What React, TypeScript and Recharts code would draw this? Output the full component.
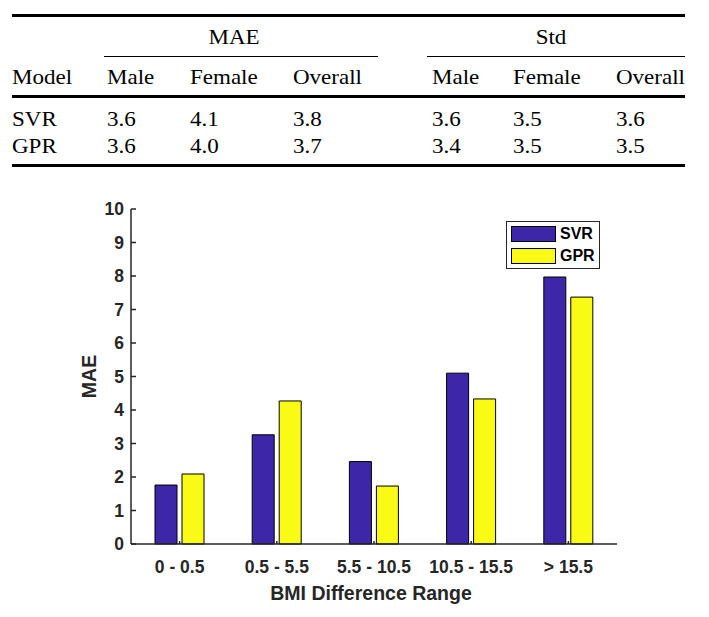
import {Bar, BarChart, Label, XAxis, YAxis} from 'recharts'

// BMI difference bins and MAE per model
const ranges = ['0 - 0.5', '0.5 - 5.5', '5.5 - 10.5', '10.5 - 15.5', '> 15.5']
const svrMae = [1.76, 3.26, 2.46, 5.1, 7.97]
const gprMae = [2.09, 4.27, 1.73, 4.33, 7.37]
const yTicks = [0, 1, 2, 3, 4, 5, 6, 7, 8, 9, 10]

// summary table
const groups = ['MAE', 'Std']
const subCols = ['Male', 'Female', 'Overall']
const models = ['SVR', 'GPR']
const svrStats = ['3.6', '4.1', '3.8', '3.6', '3.5', '3.6']
const gprStats = ['3.6', '4.0', '3.7', '3.4', '3.5', '3.5']

const series = [
	{key: 'svr', name: 'SVR', color: '#3E26A8'},
	{key: 'gpr', name: 'GPR', color: '#F9FB15'},
]

const data = ranges.map((range, i) => ({range, svr: svrMae[i], gpr: gprMae[i]}))
const tableRows = [svrStats, gprStats]

const ink = '#262626'
const sans = '"Liberation Sans", Arial, sans-serif'
const serif = '"Liberation Serif", "Times New Roman", serif'

// table layout
const colLeft = [107, 190, 293, 432, 513, 616]
const groupCenter = [234, 551]
const groupRule = [
	[104, 378],
	[427, 685],
]
const rowCenter = [119, 146]

function Cell({left, center, y, text}: {left?: number; center?: number; y: number; text: string}) {
	const style: React.CSSProperties = {
		position: 'absolute',
		top: y - 12,
		lineHeight: '24px',
		fontSize: 21.5,
		fontFamily: serif,
		whiteSpace: 'nowrap',
		color: '#000',
		transform: 'scaleX(1.07)',
		transformOrigin: center !== undefined ? 'center' : 'left',
	}
	if (center !== undefined) {
		style.left = center - 60
		style.width = 120
		style.textAlign = 'center'
	} else {
		style.left = left
	}
	return <div style={style}>{text}</div>
}

function Rule({x1, x2, y, h}: {x1: number; x2: number; y: number; h: number}) {
	return <div style={{position: 'absolute', left: x1, top: y, width: x2 - x1, height: h, background: '#000'}} />
}

function StatsTable() {
	return (
		<>
			<Rule x1={12} x2={685} y={14} h={3} />
			{groups.map((g, i) => (
				<Cell key={g} center={groupCenter[i]} y={37} text={g} />
			))}
			{groupRule.map(([a, b], i) => (
				<Rule key={i} x1={a} x2={b} y={56} h={1} />
			))}
			<Cell left={12} y={77} text='Model' />
			{groups.flatMap((g, gi) =>
				subCols.map((c, ci) => <Cell key={g + c} left={colLeft[gi * 3 + ci]} y={77} text={c} />),
			)}
			<Rule x1={12} x2={685} y={95} h={3} />
			{models.map((m, ri) => (
				<div key={m}>
					<Cell left={12} y={rowCenter[ri]} text={m} />
					{tableRows[ri].map((v, ci) => (
						<Cell key={ci} left={colLeft[ci]} y={rowCenter[ri]} text={v} />
					))}
				</div>
			))}
			<Rule x1={12} x2={685} y={164} h={3} />
		</>
	)
}

function XTick({x, y, payload}: any) {
	return (
		<text x={x} y={y + 29} textAnchor='middle' fill={ink} fontSize={17.5} fontWeight='bold' fontFamily={sans}>
			{payload.value}
		</text>
	)
}

function YTick({x, y, payload}: any) {
	return (
		<text x={x} y={y + 6} textAnchor='end' fill={ink} fontSize={17.5} fontWeight='bold' fontFamily={sans}>
			{payload.value}
		</text>
	)
}

export default function App() {
	return (
		<div style={{position: 'absolute', left: 0, top: 0, width: 709, height: 617, background: '#fff'}}>
			<StatsTable />
			<div style={{position: 'absolute', left: 0, top: 180}}>
				<BarChart
					width={709}
					height={437}
					data={data}
					margin={{top: 29, right: 92, bottom: 33, left: 81}}
					barSize={22}
					barGap={5}
				>
					<XAxis
						dataKey='range'
						height={40}
						stroke={ink}
						strokeWidth={1.5}
						tickSize={-3}
						tickMargin={3}
						tick={<XTick />}
						interval={0}
					>
						<Label
							content={({viewBox}: any) => (
								<text
									x={viewBox.x + viewBox.width / 2 - 3}
									y={viewBox.y + 56}
									textAnchor='middle'
									fill={ink}
									fontSize={19.5}
									fontWeight='bold'
									fontFamily={sans}
								>
									BMI Difference Range
								</text>
							)}
						/>
					</XAxis>
					<XAxis xAxisId='top' dataKey='range' orientation='top' height={0} stroke={ink} strokeWidth={1.5} tickSize={-4} tick={false} interval={0} />
					<YAxis
						domain={[0, 10]}
						ticks={yTicks}
						width={50}
						stroke={ink}
						strokeWidth={1.5}
						tickSize={-5}
						tickMargin={12}
						tick={<YTick />}
						interval={0}
					>
						<Label
							content={({viewBox}: any) => {
								const cx = viewBox.x + 8
								const cy = viewBox.y + viewBox.height / 2
								return (
									<text
										x={cx}
										y={cy}
										transform={`rotate(-90, ${cx}, ${cy})`}
										textAnchor='middle'
										dominantBaseline='central'
										fill={ink}
										fontSize={19.5}
										fontWeight='bold'
										fontFamily={sans}
									>
										MAE
									</text>
								)
							}}
						/>
					</YAxis>
					<YAxis yAxisId='right' orientation='right' domain={[0, 10]} ticks={yTicks} width={0} stroke={ink} strokeWidth={1.5} tickSize={-5} tick={false} interval={0} />
					{series.map((s) => (
						<Bar key={s.key} dataKey={s.key} name={s.name} fill={s.color} stroke='#000' strokeWidth={1} isAnimationActive={false} />
					))}
				</BarChart>
			</div>
			{/* legend box */}
			<div
				style={{
					position: 'absolute',
					left: 506,
					top: 221,
					width: 92,
					height: 46,
					border: `1px solid ${ink}`,
					background: '#fff',
				}}
			>
				{series.map((s, i) => (
					<div key={s.key} style={{position: 'absolute', left: 4, top: 4 + i * 22, height: 16, display: 'flex', alignItems: 'center'}}>
						<div style={{width: 43, height: 14, background: s.color, border: '1px solid #000'}} />
						<span style={{marginLeft: 4, fontFamily: sans, fontWeight: 'bold', fontSize: 16, color: '#000'}}>{s.name}</span>
					</div>
				))}
			</div>
		</div>
	)
}
